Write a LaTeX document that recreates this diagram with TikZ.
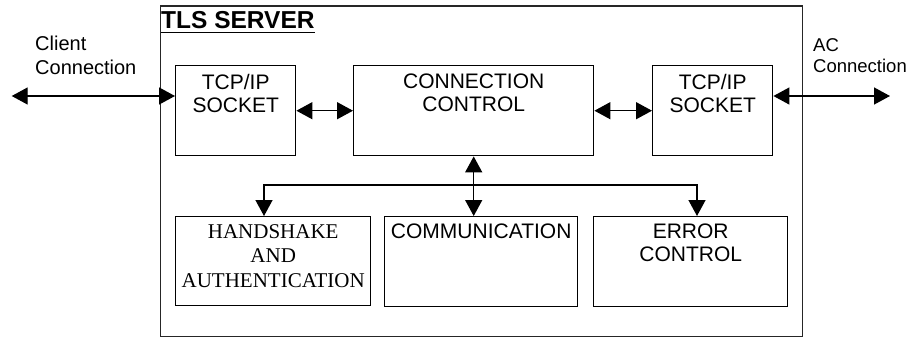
\documentclass[tikz,border=0pt]{standalone}
\usepackage{fontspec}
\setmainfont{Liberation Sans}
\newfontfamily\timesfont{Liberation Serif}
\usetikzlibrary{arrows.meta,calc}
\tikzset{
  box/.style={draw=black, line width=1.4pt, anchor=north west, inner sep=0pt},
  server/.style={draw=black!85, line width=1.2pt, anchor=north west, inner sep=0pt},
  lbl/.style={anchor=north, inner sep=0pt, align=center, font=\fontsize{21}{23}\selectfont},
  serlbl/.style={anchor=north, inner sep=0pt, align=center, font=\timesfont\fontsize{21}{24.5}\selectfont},
  side/.style={anchor=north west, inner sep=0pt, align=left},
  arr/.style={{Triangle[length=16pt,width=17pt]}-{Triangle[length=16pt,width=17pt]}, line width=1.4pt},
}
\begin{document}
\begin{tikzpicture}[x=1pt,y=-1pt]
\useasboundingbox (0,0) rectangle (909,338);
% server frame
\node[server, minimum width=641.7pt, minimum height=330.7pt] (srv) at (160,5.3) {};
\node[anchor=base west, inner sep=0pt, font=\bfseries\fontsize{24.5}{28}\selectfont] (title) at (161,28.3) {TLS SERVER};
\draw[line width=1.5pt] ($(title.base west)+(0,4)$) -- ($(title.base east)+(0,4)$);
% top boxes
\node[box, minimum width=120pt, minimum height=90pt,
  label={[lbl, yshift=-8.7pt]north:TCP/IP\\SOCKET}] (ls) at (175,65) {};
\node[box, minimum width=240pt, minimum height=90pt,
  label={[lbl, yshift=-8.7pt]north:CONNECTION\\CONTROL}] (cc) at (353,65) {};
\node[box, minimum width=120pt, minimum height=90pt,
  label={[lbl, yshift=-8.7pt]north:TCP/IP\\SOCKET}] (rs) at (652,65) {};
% bottom boxes
\node[box, minimum width=195pt, minimum height=89pt,
  label={[serlbl, yshift=-8.1pt]north:HANDSHAKE\\AND\\AUTHENTICATION}] (hs) at (175,216) {};
\node[box, minimum width=193pt, minimum height=90pt,
  label={[lbl, yshift=-7.3pt]north:COMMUNICATION}] (comm) at (384,216) {};
\node[box, minimum width=194pt, minimum height=90pt,
  label={[lbl, yshift=-7.8pt]north:ERROR\\CONTROL}] (err) at (593,216) {};
% side texts
\node[side, font=\fontsize{20}{24}\selectfont] (client) at (35,35.4) {Client\\Connection};
\node[side, font=\fontsize{18.5}{21}\selectfont] (ac) at (813,38.5) {AC\\Connection};
% connectors
\coordinate (cl) at (11.7,96);
\coordinate (cr) at (890,96);
\draw[arr] (cl) -- (cl -| ls.west);
\draw[arr] (ls.east) -- (cc.west);
\draw[arr] (cc.east) -- (rs.west);
\draw[arr] (cr -| rs.east) -- (cr);
\draw[arr] (cc.south) -- (cc.south |- comm.north);
\coordinate (j1) at (264,185);
\coordinate (j2) at (697,185);
\draw[arr] (j1 |- hs.north) -- (j1) -- (j2) -- (j2 |- err.north);
\end{tikzpicture}
\end{document}
